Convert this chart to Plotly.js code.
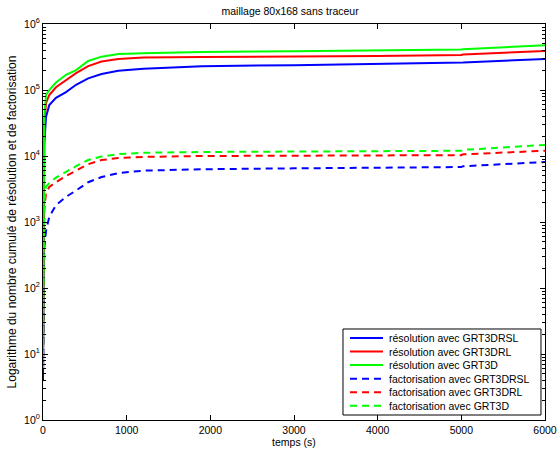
<!DOCTYPE html>
<html>
<head>
<meta charset="utf-8">
<script src="https://cdn.plot.ly/plotly-3.0.1.min.js"></script>
<style>html,body{margin:0;padding:0;background:#fff;}#chart{width:560px;height:451px;}</style>
</head>
<body>
<div id="chart"></div>
<script>
// time (s)
const temps = [0, 5, 15, 36, 75, 155, 275, 395, 540, 700, 900, 1200, 1900, 3000, 4000, 5000, 5020, 6000];

// cumulative counts
const resolGRT3DRSL = [4, 800, 15000, 39000, 59000, 76000, 93000, 120000, 150000, 175000, 195000, 210000, 230000, 238000, 247000, 256000, 260000, 295000];
const resolGRT3DRL  = [6, 2000, 30000, 63000, 84000, 110000, 140000, 180000, 230000, 270000, 295000, 310000, 316000, 320000, 327000, 340000, 345000, 390000];
const resolGRT3D    = [6, 3000, 40000, 84000, 100000, 130000, 170000, 200000, 275000, 320000, 350000, 360000, 377000, 385000, 394000, 410000, 415000, 478000];
const factGRT3DRSL  = [4, 100, 400, 730, 1200, 1800, 2400, 3000, 4000, 4800, 5500, 6000, 6300, 6500, 6700, 6800, 7000, 8100];
const factGRT3DRL   = [6, 300, 1500, 2750, 3400, 4000, 5000, 6000, 7500, 8700, 9300, 9700, 10000, 10100, 10200, 10300, 10600, 12000];
const factGRT3D     = [6, 400, 2000, 3400, 3900, 4700, 5800, 7000, 8700, 9800, 10700, 11200, 11500, 11700, 11900, 12000, 12400, 14700];

const seriesNames = [
  'résolution avec GRT3DRSL', 'résolution avec GRT3DRL', 'résolution avec GRT3D',
  'factorisation avec GRT3DRSL', 'factorisation avec GRT3DRL', 'factorisation avec GRT3D'
];
const seriesData = [resolGRT3DRSL, resolGRT3DRL, resolGRT3D, factGRT3DRSL, factGRT3DRL, factGRT3D];
const colors = ['#0000ff', '#ff0000', '#00ff00', '#0000ff', '#ff0000', '#00ff00'];
const dashes = ['solid', 'solid', 'solid', '7px,5px', '7px,5px', '7px,5px'];

const yTickVals = [1, 10, 100, 1000, 10000, 100000, 1000000];
const yTickText = ['10<sup>0</sup>', '10<sup>1</sup>', '10<sup>2</sup>', '10<sup>3</sup>', '10<sup>4</sup>', '10<sup>5</sup>', '10<sup>6</sup>'];

const minorVals = [];
for (let e = 0; e < 6; e++) for (let m = 2; m <= 9; m++) minorVals.push(m * Math.pow(10, e));

const traces = seriesData.map((y, i) => ({
  x: temps, y: y, type: 'scatter', mode: 'lines', name: seriesNames[i],
  line: {color: colors[i], width: 2, dash: dashes[i]}
}));

const font = {family: '"Liberation Sans", Arial, Helvetica, sans-serif', size: 10.5, color: '#000'};

// Compact legend box (Matlab-style spacing) drawn in paper coordinates
const legBox = {x0: 0.5976, x1: 0.992, y0: 0.0126, y1: 0.2298};
const legRowTop = 0.2072, legRowStep = 0.0343;
const keyX0 = 0.6116, keyX1 = 0.6773, textX = 0.6853;

const shapes = [{
  type: 'rect', xref: 'paper', yref: 'paper',
  x0: legBox.x0, x1: legBox.x1, y0: legBox.y0, y1: legBox.y1,
  line: {color: '#000', width: 1}, fillcolor: '#fff', layer: 'above'
}];
const annotations = [];
seriesNames.forEach((n, i) => {
  const yy = legRowTop - i * legRowStep;
  shapes.push({type: 'line', xref: 'paper', yref: 'paper', x0: keyX0, x1: keyX1, y0: yy, y1: yy,
    line: {color: colors[i], width: 2, dash: dashes[i]}, layer: 'above'});
  annotations.push({xref: 'paper', yref: 'paper', x: textX, y: yy, xanchor: 'left', yanchor: 'middle',
    text: n, showarrow: false, font: font});
});

const layout = {
  width: 560, height: 451,
  margin: {l: 43, r: 15, t: 24, b: 31},
  paper_bgcolor: '#fff', plot_bgcolor: '#fff',
  font: font,
  showlegend: false,
  title: {text: 'maillage 80x168 sans traceur', x: 0.518, xanchor: 'center', y: 0.975, yanchor: 'middle', font: font},
  xaxis: {
    range: [0, 6000], tickvals: [0, 1000, 2000, 3000, 4000, 5000, 6000],
    ticks: 'inside', ticklen: 5, tickwidth: 1, tickcolor: '#000',
    showline: true, linecolor: '#000', linewidth: 1, mirror: 'ticks',
    showgrid: false, zeroline: false,
    title: {text: 'temps (s)', standoff: 2, font: font}
  },
  yaxis: {
    type: 'log', range: [0, 6], tickvals: yTickVals, ticktext: yTickText,
    ticks: 'inside', ticklen: 5, tickwidth: 1, tickcolor: '#000',
    minor: {tickvals: minorVals, ticks: 'inside', ticklen: 3, tickcolor: '#000', showgrid: false},
    showline: true, linecolor: '#000', linewidth: 1, mirror: 'ticks',
    showgrid: false, zeroline: false,
    title: {text: 'Logarithme du nombre cumulé de résolution et de factorisation', standoff: 4,
      font: {family: font.family, size: 12, color: '#000'}}
  },
  shapes: shapes,
  annotations: annotations
};

Plotly.newPlot('chart', traces, layout, {staticPlot: true, displayModeBar: false});
</script>
</body>
</html>
